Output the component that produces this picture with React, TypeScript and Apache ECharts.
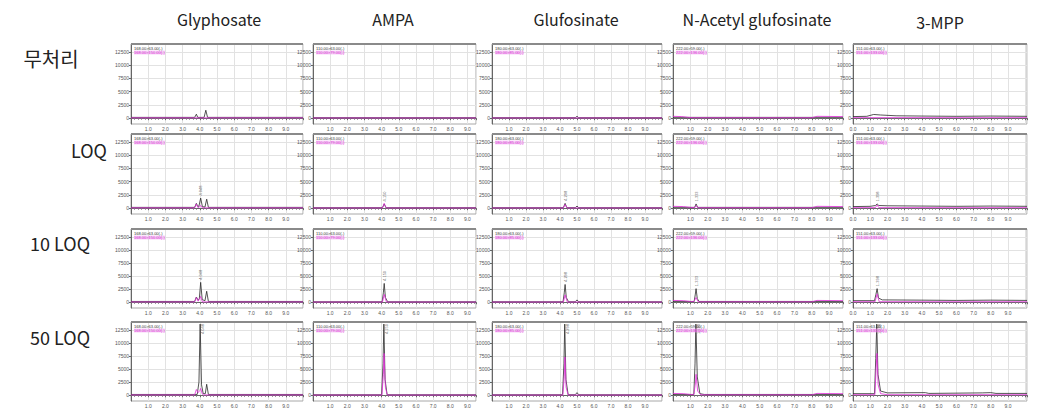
import React, { useEffect, useRef } from 'react';
import * as echarts from 'echarts';

// ---------- labels ----------
const compounds = ['Glyphosate', 'AMPA', 'Glufosinate', 'N-Acetyl glufosinate', '3-MPP'];
const levels = ['무처리', 'LOQ', '10 LOQ', '50 LOQ'];
const transitions = [
  ['168.00>63.00(-)', '168.00>150.00(-)'],
  ['110.00>63.00(-)', '110.00>79.00(-)'],
  ['180.00>63.00(-)', '180.00>85.00(-)'],
  ['222.00>59.00(-)', '222.00>136.00(-)'],
  ['151.00>63.00(-)', '151.00>133.00(-)'],
];
const apexLabels = ['4.048', '4.150', '4.298', '1.333', '1.398'];
const yTicks = [0, 2500, 5000, 7500, 10000, 12500];
const xMax = [10, 9.5, 10, 9.8, 10.1];
const xLabelMax = 9;

// ---------- traces: [time (min), intensity] ----------
// Glyphosate
const glyBlankK = [[0,150],[3.7,150],[3.8,750],[3.88,150],[4.25,150],[4.35,1500],[4.45,150],[10,150]];
const glyBlankM = [[0,60],[10,60]];
const glyLoqK = [[0,150],[3.7,150],[3.8,900],[3.88,300],[3.95,400],[4.05,1900],[4.15,300],[4.3,200],[4.4,1700],[4.5,150],[10,150]];
const glyLoqM = [[0,60],[3.7,60],[3.8,800],[3.9,100],[4.0,300],[4.05,500],[4.15,60],[10,60]];
const gly10K = [[0,150],[3.7,150],[3.8,1000],[3.9,400],[3.97,600],[4.05,3800],[4.14,500],[4.3,300],[4.4,2100],[4.5,150],[10,150]];
const gly10M = [[0,60],[3.7,60],[3.8,900],[3.9,200],[4.0,800],[4.05,1100],[4.15,60],[10,60]];
const gly50K = [[0,150],[3.85,150],[3.95,2500],[4.02,13600],[4.1,2000],[4.2,300],[4.32,300],[4.4,2100],[4.5,150],[10,150]];
const gly50M = [[0,60],[3.7,60],[3.8,1100],[3.9,500],[4.0,900],[4.05,1300],[4.15,200],[4.2,60],[10,60]];
// AMPA
const ampBlankK = [[0,100],[9.5,100]];
const ampBlankM = [[0,40],[9.5,40]];
const ampLoqK = [[0,100],[4.05,100],[4.15,800],[4.25,100],[9.5,100]];
const ampLoqM = [[0,40],[4.05,40],[4.15,900],[4.27,40],[9.5,40]];
const amp10K = [[0,100],[4.03,100],[4.1,1800],[4.15,3600],[4.22,900],[4.35,100],[9.5,100]];
const amp10M = [[0,40],[4.05,40],[4.15,1500],[4.28,40],[9.5,40]];
const amp50K = [[0,100],[4.0,100],[4.08,6000],[4.13,13600],[4.2,3000],[4.32,100],[9.5,100]];
const amp50M = [[0,40],[4.02,40],[4.1,4000],[4.14,8000],[4.22,1500],[4.33,40],[9.5,40]];
// Glufosinate
const gluBlankK = [[0,100],[4.9,100],[5.0,350],[5.1,100],[10,100]];
const gluBlankM = [[0,40],[10,40]];
const gluLoqK = [[0,100],[4.2,100],[4.3,900],[4.4,100],[4.9,100],[5.0,400],[5.1,100],[10,100]];
const gluLoqM = [[0,40],[4.2,40],[4.3,700],[4.42,40],[10,40]];
const glu10K = [[0,100],[4.18,100],[4.25,1800],[4.3,3400],[4.37,900],[4.5,100],[4.9,100],[5.0,450],[5.1,100],[10,100]];
const glu10M = [[0,40],[4.2,40],[4.3,1400],[4.43,40],[10,40]];
const glu50K = [[0,100],[4.15,100],[4.23,6000],[4.28,13600],[4.35,3000],[4.48,100],[4.9,100],[5.0,500],[5.1,100],[10,100]];
const glu50M = [[0,40],[4.17,40],[4.25,3500],[4.29,7300],[4.36,1500],[4.48,40],[10,40]];
// N-Acetyl glufosinate
const nagBlankK = [[0,150],[9.8,150]];
const nagBlankM = [[0,350],[0.5,300],[0.9,150],[1.2,80],[8.0,80],[8.3,350],[9.8,300]];
const nagLoqK = [[0,150],[1.25,150],[1.33,800],[1.42,150],[9.8,150]];
const nagLoqM = [[0,350],[0.6,300],[1.0,150],[1.25,100],[1.33,500],[1.42,80],[8.0,80],[8.3,350],[9.8,300]];
const nag10K = [[0,150],[1.22,150],[1.28,1400],[1.33,2600],[1.4,700],[1.5,150],[9.8,150]];
const nag10M = [[0,350],[0.6,300],[1.0,150],[1.2,100],[1.33,900],[1.45,80],[8.0,80],[8.3,350],[9.8,300]];
const nag50K = [[0,150],[1.2,150],[1.27,6000],[1.32,13600],[1.4,3500],[1.55,300],[1.8,150],[9.8,150]];
const nag50M = [[0,350],[0.6,300],[1.0,150],[1.2,100],[1.3,2500],[1.33,4000],[1.42,800],[1.6,80],[8.0,80],[8.3,350],[9.8,300]];
// 3-MPP
const mppBlankK = [[0,300],[0.8,350],[1.2,700],[1.6,600],[2.5,450],[4.0,400],[6.0,350],[8.0,400],[10.1,350]];
const mppBlankM = [[0,100],[10.1,100]];
const mppLoqK = [[0,300],[1.0,350],[1.3,500],[1.4,800],[1.5,500],[2.0,450],[4.0,400],[6.0,350],[8.0,400],[10.1,350]];
const mppLoqM = [[0,100],[1.3,100],[1.4,600],[1.5,100],[10.1,100]];
const mpp10K = [[0,300],[1.25,300],[1.33,1500],[1.4,2600],[1.48,800],[1.7,450],[4.0,400],[6.0,350],[8.0,400],[10.1,350]];
const mpp10M = [[0,100],[1.28,100],[1.4,1600],[1.52,100],[10.1,100]];
const mpp50K = [[0,300],[1.25,300],[1.32,7000],[1.38,13600],[1.45,4000],[1.6,800],[2.0,450],[4.2,500],[4.4,350],[7.5,450],[8.0,500],[8.3,350],[10.1,350]];
const mpp50M = [[0,100],[1.27,100],[1.34,5000],[1.39,8000],[1.46,2000],[1.6,300],[2.0,100],[10.1,100]];

const blackTraces = [
  [glyBlankK, ampBlankK, gluBlankK, nagBlankK, mppBlankK],
  [glyLoqK, ampLoqK, gluLoqK, nagLoqK, mppLoqK],
  [gly10K, amp10K, glu10K, nag10K, mpp10K],
  [gly50K, amp50K, glu50K, nag50K, mpp50K],
];
const magentaTraces = [
  [glyBlankM, ampBlankM, gluBlankM, nagBlankM, mppBlankM],
  [glyLoqM, ampLoqM, gluLoqM, nagLoqM, mppLoqM],
  [gly10M, amp10M, glu10M, nag10M, mpp10M],
  [gly50M, amp50M, glu50M, nag50M, mpp50M],
];

// ---------- layout ----------
const colL = [131, 313, 492, 673, 853];
const colR = [303, 476, 662, 843, 1027];
const rowT = [44, 134, 229, 322];
const rowB = [124, 214, 308, 401];
const headerX = [219, 393, 576, 757, 940];
const headerY = [19, 19, 19, 19, 22];
const rowLabelPos = [
  { x: 51, y: 58, size: 20 },
  { x: 89, y: 150, size: 18 },
  { x: 60, y: 243, size: 18 },
  { x: 60, y: 337, size: 18 },
];

const BLACK = '#2a2a2a';
const MAGENTA = '#e02ad8';

export default function App() {
  const ref = useRef<HTMLDivElement>(null);
  useEffect(() => {
    if (!ref.current) return;
    const chart = echarts.init(ref.current, undefined, { renderer: 'svg' });
    const grid: any[] = [];
    const xAxis: any[] = [];
    const yAxis: any[] = [];
    const series: any[] = [];
    const graphic: any[] = [];

    compounds.forEach((name, c) => {
      graphic.push({
        type: 'text', x: headerX[c], y: headerY[c],
        style: { text: name, fill: '#222', font: '16px "Noto Sans CJK KR", "Noto Sans", sans-serif', textAlign: 'center', textVerticalAlign: 'middle' },
      });
    });
    levels.forEach((lv, r) => {
      const p = rowLabelPos[r];
      graphic.push({
        type: 'text', x: p.x, y: p.y,
        style: { text: lv, fill: '#222', font: `${p.size}px "Noto Sans CJK KR", "Noto Sans", sans-serif`, textAlign: 'center', textVerticalAlign: 'middle' },
      });
    });

    for (let r = 0; r < 4; r++) {
      for (let c = 0; c < 5; c++) {
        const i = grid.length;
        const w = colR[c] - colL[c];
        const h = rowB[r] - rowT[r];
        grid.push({ left: colL[c], top: rowT[r], width: w, height: h, show: true, borderColor: '#a8a8a8', borderWidth: 1, backgroundColor: '#fff' });
        xAxis.push({
          type: 'value', gridIndex: i, min: 0, max: xMax[c], interval: 1,
          axisLine: { lineStyle: { color: '#666', width: 1 } },
          axisTick: { show: true, length: 2, lineStyle: { color: '#666' } },
          minorTick: { show: true, splitNumber: 5, length: 1.5, lineStyle: { color: '#777' } },
          splitLine: { show: true, lineStyle: { color: '#e2e2e2', width: 1 } },
          axisLabel: {
            fontSize: 5, color: '#555', margin: 2,
            showMinLabel: c === 4, showMaxLabel: false,
            formatter: (v: number) => (v > xLabelMax ? '' : v.toFixed(1)),
          },
        });
        yAxis.push({
          type: 'value', gridIndex: i, min: -1100, max: 14000,
          axisLine: { show: true, lineStyle: { color: '#666', width: 1 } },
          axisTick: { show: true, length: 2, lineStyle: { color: '#666' }, customValues: yTicks },
          splitLine: { show: true, lineStyle: { color: '#e2e2e2', width: 1 } },
          axisLabel: { fontSize: 5, color: '#555', margin: 2, customValues: yTicks, formatter: (v: number) => String(v) },
        });
        series.push({
          type: 'line', xAxisIndex: i, yAxisIndex: i, data: blackTraces[r][c],
          showSymbol: false, symbol: 'none', lineStyle: { color: BLACK, width: 0.8 }, clip: true, silent: true,
        });
        series.push({
          type: 'line', xAxisIndex: i, yAxisIndex: i, data: magentaTraces[r][c],
          showSymbol: false, symbol: 'none', lineStyle: { color: MAGENTA, width: 0.8 }, clip: true, silent: true,
        });
        if (r > 0) {
          const tr = blackTraces[r][c];
          let apex = tr[0];
          tr.forEach((p) => { if (p[1] > apex[1]) apex = p; });
          series.push({
            type: 'scatter', xAxisIndex: i, yAxisIndex: i, data: [apex], symbolSize: 1,
            itemStyle: { color: 'rgba(0,0,0,0)' }, silent: true,
            label: {
              show: true, formatter: apexLabels[c], rotate: 90, fontSize: 4, color: '#333',
              position: r === 3 ? 'right' : 'top', distance: 2, align: r === 3 ? 'right' : 'left', verticalAlign: 'middle',
            },
          });
        }
        // header bar + transition legend
        graphic.push({ type: 'rect', shape: { x: colL[c], y: rowT[r] - 1, width: w, height: 2 }, style: { fill: '#8a8a8a' }, z: 10 });
        graphic.push({ type: 'text', x: colL[c] + 3, y: rowT[r] + 2, style: { text: transitions[c][0], fill: '#333', font: '4px sans-serif' }, z: 10 });
        graphic.push({ type: 'text', x: colL[c] + 3, y: rowT[r] + 6.5, style: { text: transitions[c][1], fill: MAGENTA, font: '4px sans-serif', backgroundColor: 'rgba(240,170,240,0.5)' }, z: 10 });
      }
    }

    chart.setOption({ animation: false, backgroundColor: '#fff', grid, xAxis, yAxis, series, graphic });
    return () => chart.dispose();
  }, []);
  return <div ref={ref} style={{ position: 'fixed', left: 0, top: 0, width: 1057, height: 417, background: '#fff' }} />;
}
